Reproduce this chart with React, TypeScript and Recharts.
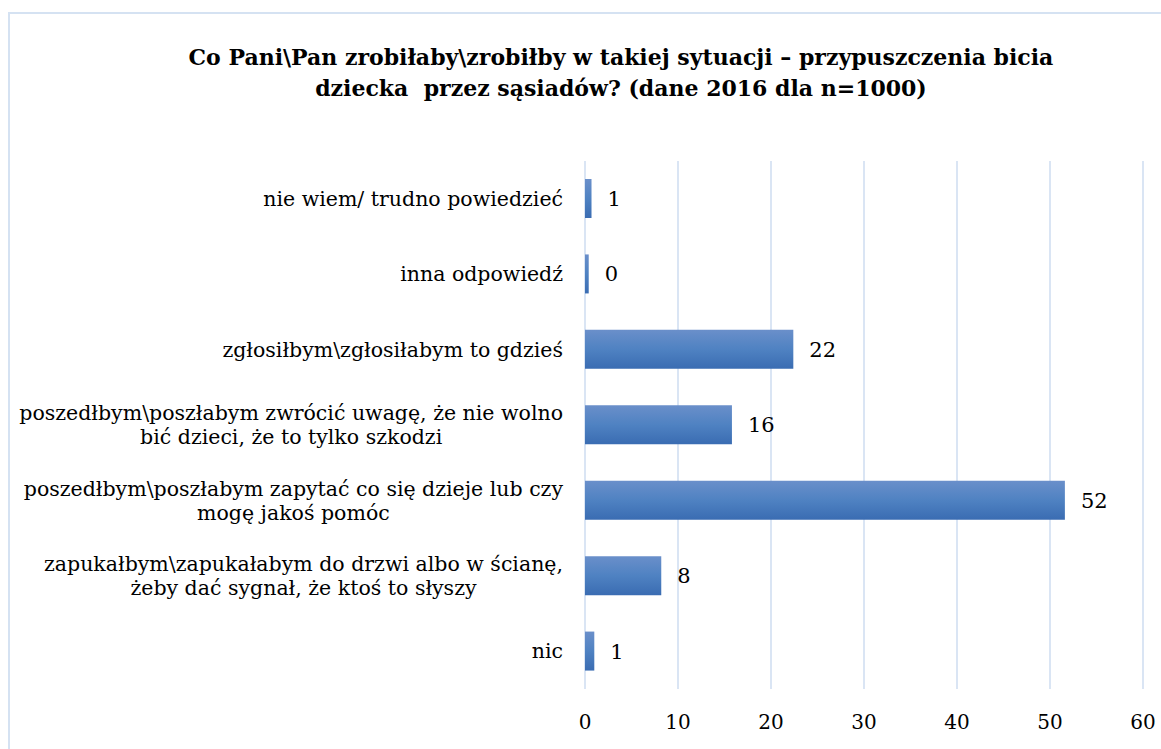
import React from "react";
import { BarChart, Bar, XAxis, YAxis, CartesianGrid, LabelList } from "recharts";

const categories = [
  "nie wiem/ trudno powiedzieć",
  "inna odpowiedź",
  "zgłosiłbym\\zgłosiłabym to gdzieś",
  "poszedłbym\\poszłabym zwrócić uwagę, że nie wolno\nbić dzieci, że to tylko szkodzi",
  "poszedłbym\\poszłabym zapytać co się dzieje lub czy\nmogę jakoś pomóc",
  "zapukałbym\\zapukałabym do drzwi albo w ścianę,\nżeby dać sygnał, że ktoś to słyszy",
  "nic",
];
const values = [0.7, 0.4, 22.4, 15.8, 51.6, 8.2, 1.0];
const xTicks = [0, 10, 20, 30, 40, 50, 60];

const titleLines = [
  "Co Pani\\Pan zrobiłaby\\zrobiłby w takiej sytuacji – przypuszczenia bicia",
  "dziecka  przez sąsiadów? (dane 2016 dla n=1000)",
];

const data = categories.map((name, i) => ({ name, value: values[i] }));

const FONT = '"DejaVu Serif", serif';
const LABEL_SIZE = 20.5;

let canvas: HTMLCanvasElement | null = null;
function measure(text: string, size: number) {
  if (!canvas) canvas = document.createElement("canvas");
  const ctx = canvas.getContext("2d")!;
  ctx.font = `${size}px ${FONT}`;
  return ctx.measureText(text).width;
}

function CategoryTick(props: any) {
  const { x, y, payload } = props;
  const lines: string[] = String(payload.value).split("\n");
  const right = x - 14;
  const w = Math.max(...lines.map((l) => measure(l, LABEL_SIZE)));
  const cx = right - w / 2;
  const lh = 24;
  const top = y - ((lines.length - 1) * lh) / 2;
  return (
    <g>
      {lines.map((l, i) => (
        <text
          key={i}
          x={cx}
          y={top + i * lh}
          dy="0.35em"
          textAnchor="middle"
          fontFamily={FONT}
          fontSize={LABEL_SIZE}
          fill="#000"
        >
          {l}
        </text>
      ))}
    </g>
  );
}

export default function App() {
  return (
    <div
      style={{
        position: "absolute",
        left: 0,
        top: 0,
        width: 1161,
        height: 749,
        background: "#fff",
        overflow: "hidden",
      }}
    >
      <div
        style={{
          position: "absolute",
          left: 8,
          top: 12,
          width: 1200,
          height: 800,
          border: "2px solid #d5e2f2",
        }}
      />
      <div style={{ position: "absolute", left: 0, top: 0 }}>
        <BarChart
          width={1161}
          height={749}
          data={data}
          layout="vertical"
          margin={{ top: 161, right: 18, bottom: 0, left: 0 }}
          barSize={39}
        >
          <defs>
            <linearGradient id="barFill" x1="0" y1="0" x2="0" y2="1">
              <stop offset="0%" stopColor="#6a8fca" />
              <stop offset="50%" stopColor="#4f82c2" />
              <stop offset="100%" stopColor="#3a6cb2" />
            </linearGradient>
          </defs>
          {titleLines.map((t, i) => (
            <text
              key={i}
              x={621}
              y={57 + i * 31}
              dy="0.35em"
              textAnchor="middle"
              fontFamily={FONT}
              fontWeight="bold"
              fontSize={22}
              style={{ whiteSpace: "pre" }}
            >
              {t}
            </text>
          ))}
          <CartesianGrid
            horizontal={false}
            stroke="#dae5f4"
            strokeWidth={2}
          />
          <XAxis
            type="number"
            domain={[0, 60]}
            ticks={xTicks}
            height={60}
            axisLine={false}
            tickLine={false}
            tick={{ fontFamily: FONT, fontSize: 20, fill: "#000" }}
            tickMargin={20}
          />
          <YAxis
            type="category"
            dataKey="name"
            width={585}
            axisLine={false}
            tickLine={false}
            tick={<CategoryTick />}
            interval={0}
          />
          <Bar dataKey="value" fill="url(#barFill)" isAnimationActive={false}>
            <LabelList
              dataKey="value"
              position="right"
              offset={16}
              formatter={(v: any) => Math.round(Number(v))}
              style={{ fontFamily: FONT, fontSize: 21, fill: "#000" }}
            />
          </Bar>
        </BarChart>
      </div>
    </div>
  );
}
